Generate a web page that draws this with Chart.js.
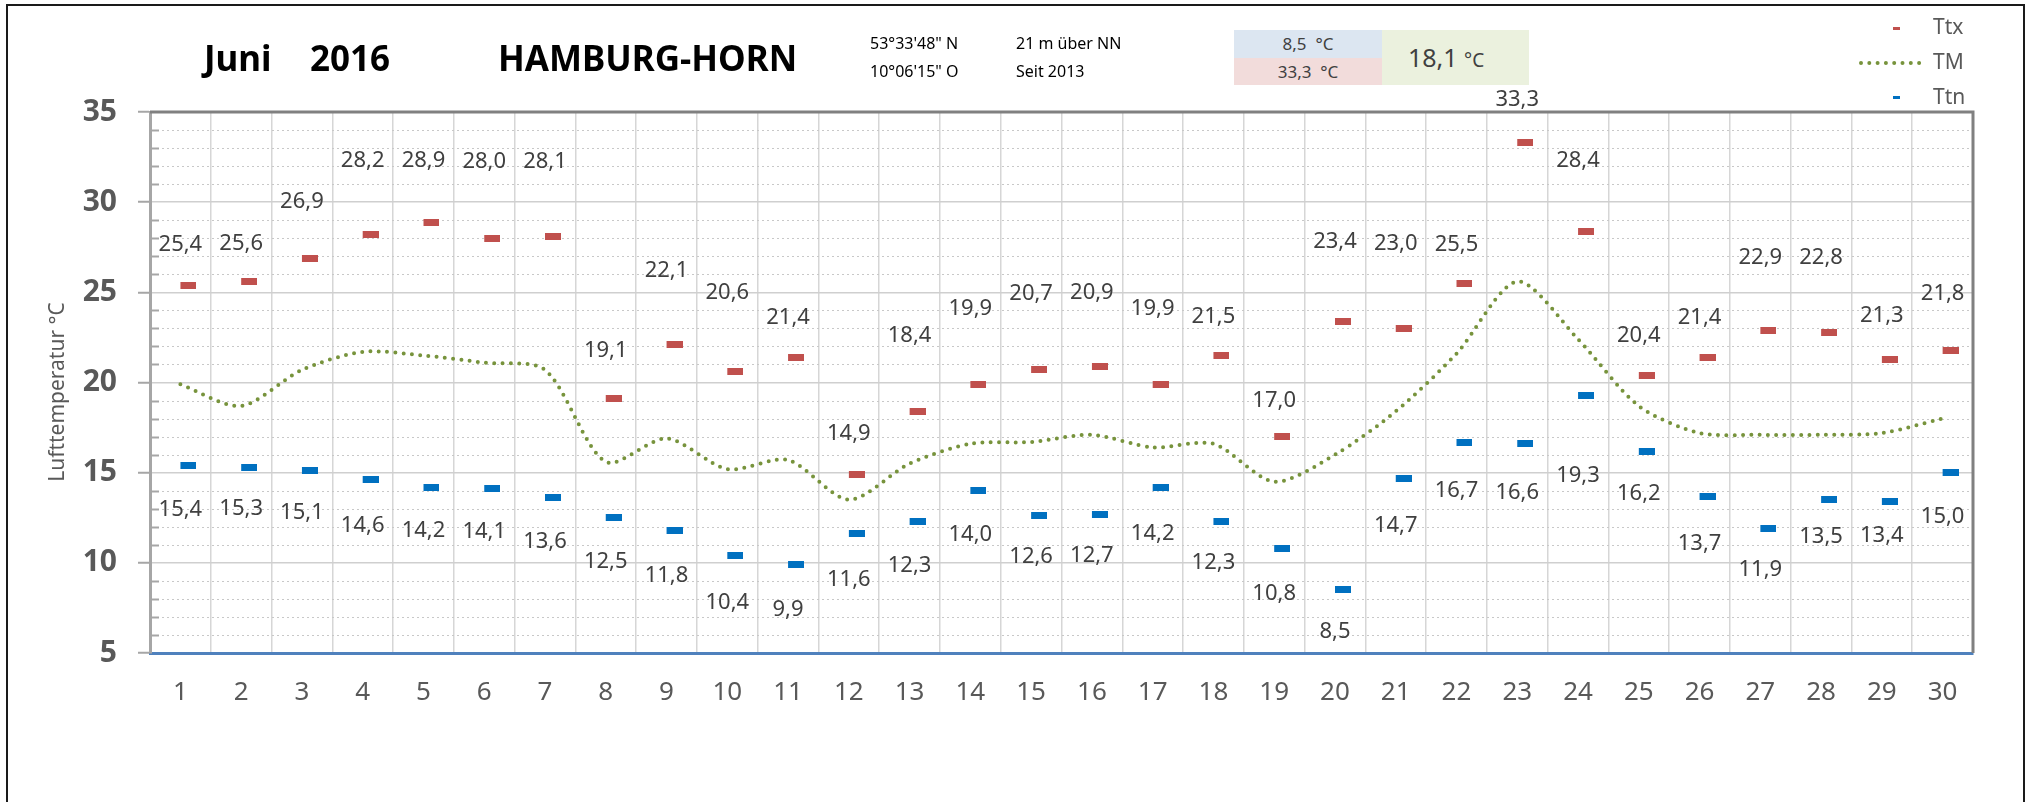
<!DOCTYPE html>
<html>
<head>
<meta charset="utf-8">
<script src="https://cdn.jsdelivr.net/npm/chart.js@4.4.1/dist/chart.umd.min.js"></script>
<style>
  body { margin: 0; background: #fff; }
  #wrap { position: relative; width: 2025px; height: 802px; font-family: "Noto Sans", sans-serif; }
  canvas { position: absolute; left: 0; top: 0; }
  .t { position: absolute; white-space: nowrap; }
  .title { font-weight: bold; font-size: 35px; color: #000; top: 34px; line-height: 48px; }
  .small { font-size: 16px; color: #000; line-height: 20px; }
  .box { position: absolute; font-size: 17px; color: #404040; text-align: center; }
</style>
</head>
<body>
<div id="wrap">
  <canvas id="tempChart" width="2025" height="802"></canvas>
  <div class="t title" style="left:204px">Juni</div>
  <div class="t title" style="left:310px">2016</div>
  <div class="t title" style="left:498px">HAMBURG-HORN</div>
  <div class="t small" style="left:870px; top:33px">53°33'48" N</div>
  <div class="t small" style="left:870px; top:61px">10°06'15" O</div>
  <div class="t small" style="left:1016px; top:33px">21 m über NN</div>
  <div class="t small" style="left:1016px; top:61px">Seit 2013</div>
  <div class="box" style="left:1234px; top:30px; width:148px; height:28px; line-height:28px; background:#dce6f1">8,5&nbsp; °C</div>
  <div class="box" style="left:1234px; top:58px; width:148px; height:27px; line-height:27px; background:#f2dcdb">33,3&nbsp; °C</div>
  <div class="box" style="left:1382px; top:30px; width:147px; height:55px; line-height:55px; background:#ebf1de; text-align:left; font-size:25px">&nbsp;&nbsp;&nbsp;&nbsp;18,1 <span style="font-size:19px">°C</span></div>
</div>
<script>
const days = ['1','2','3','4','5','6','7','8','9','10','11','12','13','14','15','16','17','18','19','20','21','22','23','24','25','26','27','28','29','30'];
const ttx = [25.4, 25.6, 26.9, 28.2, 28.9, 28.0, 28.1, 19.1, 22.1, 20.6, 21.4, 14.9, 18.4, 19.9, 20.7, 20.9, 19.9, 21.5, 17.0, 23.4, 23.0, 25.5, 33.3, 28.4, 20.4, 21.4, 22.9, 22.8, 21.3, 21.8];
const ttn = [15.4, 15.3, 15.1, 14.6, 14.2, 14.1, 13.6, 12.5, 11.8, 10.4, 9.9, 11.6, 12.3, 14.0, 12.6, 12.7, 14.2, 12.3, 10.8, 8.5, 14.7, 16.7, 16.6, 19.3, 16.2, 13.7, 11.9, 13.5, 13.4, 15.0];
const tm = [19.9, 18.7, 20.7, 21.7, 21.5, 21.1, 20.7, 15.6, 16.9, 15.2, 15.7, 13.5, 15.5, 16.6, 16.7, 17.1, 16.4, 16.6, 14.5, 16.0, 18.4, 21.6, 25.6, 22.4, 18.7, 17.2, 17.1, 17.1, 17.2, 18.0];

// how far the value labels sit from their marker (px), as placed in the original
const ttxGap = [40, 38, 56, 74, 61, 76, 75, 48, 74, 79, 40, 41, 76, 76, 76, 74, 76, 39, 36, 79, 85, 39, 43, 70, 40, 40, 72, 74, 43, 56];
const ttnGap = [44, 41, 42, 46, 44, 43, 44, 44, 45, 47, 45, 46, 44, 44, 41, 42, 47, 41, 45, 42, 48, 49, 49, 81, 43, 48, 41, 37, 34, 44];

const RED = '#c0504d';
const BLUE = '#0070c0';
const GREEN = '#77933c';

// dash marker drawn a bit right of the category centre, like the Excel original
function dash(color) {
  const c = document.createElement('canvas');
  c.width = 32; c.height = 7;
  const g = c.getContext('2d');
  g.fillStyle = color;
  g.fillRect(16, 0, 16, 7);
  return c;
}

const fmt = v => v.toFixed(1).replace('.', ',');

const extras = {
  id: 'extras',
  beforeDatasetsDraw(chart) {
    const { ctx, chartArea: a, scales: { y } } = chart;
    ctx.save();
    for (let v = 6; v < 35; v++) {
      if (v % 5 === 0) continue;
      const py = Math.round(y.getPixelForValue(v)) + 0.5;
      ctx.strokeStyle = '#c8c8c8';
      ctx.lineWidth = 1;
      ctx.setLineDash([2, 3]);
      ctx.beginPath(); ctx.moveTo(a.left + 2, py); ctx.lineTo(a.right, py); ctx.stroke();
      ctx.setLineDash([]);
      ctx.strokeStyle = '#a6a6a6';
      ctx.lineWidth = 2;
      ctx.beginPath(); ctx.moveTo(a.left, py); ctx.lineTo(a.left + 9, py); ctx.stroke();
    }
    ctx.restore();
  },
  afterDatasetsDraw(chart) {
    const { ctx } = chart;
    ctx.save();
    ctx.font = '22px "Noto Sans"';
    ctx.fillStyle = '#404040';
    ctx.textAlign = 'center';
    ctx.textBaseline = 'middle';
    chart.getDatasetMeta(0).data.forEach((p, i) => ctx.fillText(fmt(ttx[i]), p.x, p.y - ttxGap[i]));
    chart.getDatasetMeta(2).data.forEach((p, i) => ctx.fillText(fmt(ttn[i]), p.x, p.y + ttnGap[i]));
    ctx.restore();
  },
  afterDraw(chart) {
    const { ctx, chartArea: a } = chart;
    ctx.save();
    // plot frame top + right
    ctx.strokeStyle = '#808080';
    ctx.lineWidth = 3;
    ctx.beginPath();
    ctx.moveTo(a.left, a.top); ctx.lineTo(a.right, a.top); ctx.lineTo(a.right, a.bottom);
    ctx.stroke();
    // outer border
    ctx.strokeStyle = '#1a1a1a';
    ctx.lineWidth = 2;
    ctx.strokeRect(7, 5, 2017, 820);
    // axis title
    ctx.translate(58, 392);
    ctx.rotate(-Math.PI / 2);
    ctx.font = '21px "Noto Sans"';
    ctx.fillStyle = '#595959';
    ctx.textAlign = 'center';
    ctx.textBaseline = 'middle';
    ctx.fillText('Lufttemperatur °C', 0, 0);
    ctx.setTransform(1, 0, 0, 1, 0, 0);
    // legend
    ctx.font = '21px "Noto Sans"';
    ctx.textAlign = 'left';
    ctx.fillText('Ttx', 1933, 28);
    ctx.fillText('TM', 1933, 63);
    ctx.fillText('Ttn', 1933, 98);
    ctx.fillStyle = RED;
    ctx.fillRect(1893, 27, 7, 3);
    ctx.fillStyle = BLUE;
    ctx.fillRect(1893, 96, 7, 3);
    ctx.strokeStyle = GREEN;
    ctx.lineWidth = 4;
    ctx.lineCap = 'round';
    ctx.setLineDash([0, 8.3]);
    ctx.beginPath(); ctx.moveTo(1861, 63); ctx.lineTo(1927, 63); ctx.stroke();
    ctx.restore();
  }
};

new Chart(document.getElementById('tempChart'), {
  type: 'line',
  data: {
    labels: days,
    datasets: [
      {
        label: 'Ttx',
        data: ttx,
        showLine: false,
        pointStyle: dash(RED),
        pointRadius: 8
      },
      {
        label: 'TM',
        data: tm,
        borderColor: GREEN,
        borderWidth: 4,
        borderDash: [0, 8.3],
        borderCapStyle: 'round',
        tension: 0.28,
        pointRadius: 0,
        fill: false
      },
      {
        label: 'Ttn',
        data: ttn,
        showLine: false,
        pointStyle: dash(BLUE),
        pointRadius: 8
      }
    ]
  },
  options: {
    responsive: false,
    animation: false,
    layout: { padding: { left: 0, top: 112, right: 52, bottom: 0 } },
    plugins: {
      legend: { display: false },
      tooltip: { enabled: false }
    },
    scales: {
      x: {
        offset: true,
        grid: { offset: true, color: '#d6d6d6', lineWidth: 1.5, drawTicks: false },
        border: { color: '#4f81bd', width: 3 },
        ticks: {
          color: '#595959',
          font: { family: 'Noto Sans', size: 26 },
          padding: 24,
          maxRotation: 0
        },
        afterFit(s) { s.height = 149; }
      },
      y: {
        min: 5,
        max: 35,
        grid: { color: '#cfcfcf', lineWidth: 1.5, tickLength: 12, tickColor: '#a6a6a6', tickWidth: 2 },
        border: { color: '#a6a6a6', width: 3 },
        ticks: {
          stepSize: 5,
          padding: 21,
          color: '#595959',
          font: { family: 'Noto Sans', size: 30, weight: 'bold' }
        },
        afterFit(s) { s.width = 150; }
      }
    }
  },
  plugins: [extras]
});
</script>
</body>
</html>
